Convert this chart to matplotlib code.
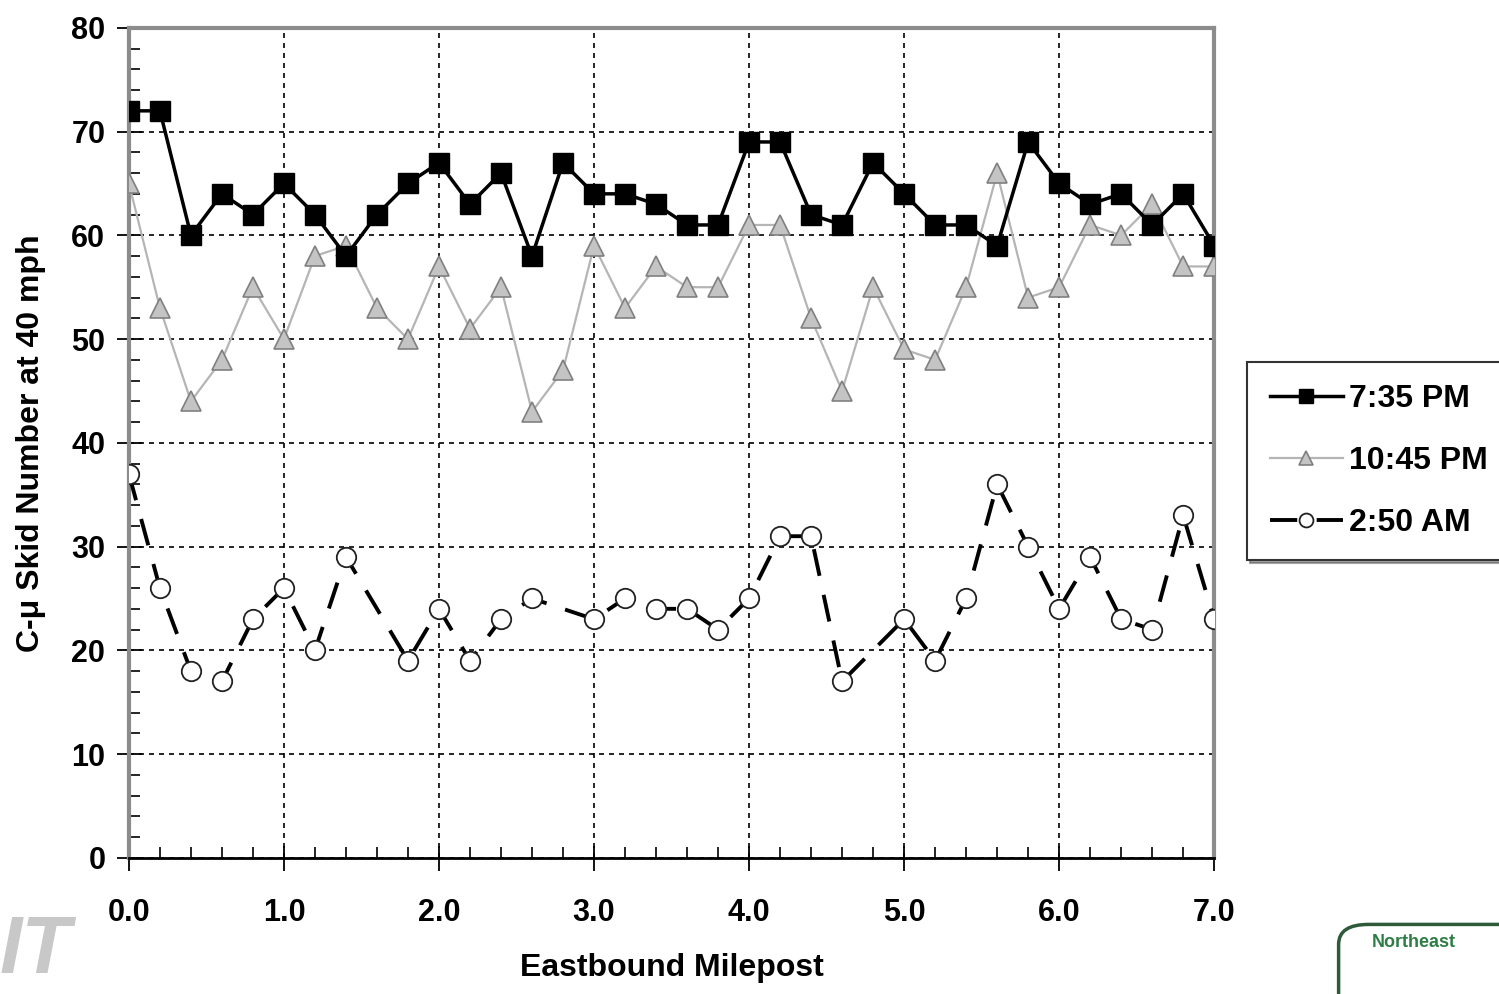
import numpy as np
import matplotlib
matplotlib.use("Agg")
import matplotlib.pyplot as plt
from matplotlib.patches import FancyBboxPatch
from matplotlib.ticker import MultipleLocator

# Datos (milepost cada 0.2)
milepost = [0.0, 0.2, 0.4, 0.6, 0.8, 1.0, 1.2, 1.4, 1.6, 1.8,
            2.0, 2.2, 2.4, 2.6, 2.8, 3.0, 3.2, 3.4, 3.6, 3.8,
            4.0, 4.2, 4.4, 4.6, 4.8, 5.0, 5.2, 5.4, 5.6, 5.8,
            6.0, 6.2, 6.4, 6.6, 6.8, 7.0]
skid_735pm = [72, 72, 60, 64, 62, 65, 62, 58, 62, 65,
              67, 63, 66, 58, 67, 64, 64, 63, 61, 61,
              69, 69, 62, 61, 67, 64, 61, 61, 59, 69,
              65, 63, 64, 61, 64, 59]
skid_1045pm = [65, 53, 44, 48, 55, 50, 58, 59, 53, 50,
               57, 51, 55, 43, 47, 59, 53, 57, 55, 55,
               61, 61, 52, 45, 55, 49, 48, 55, 66, 54,
               55, 61, 60, 63, 57, 57]
# None = sin medicion en ese punto
skid_250am = [37, 26, 18, 17, 23, 26, 20, 29, None, 19,
              24, 19, 23, 25, None, 23, 25, 24, 24, 22,
              25, 31, 31, 17, None, 23, 19, 25, 36, 30,
              24, 29, 23, 22, 33, 23]
labels = ["7:35 PM", "10:45 PM", "2:50 AM"]

FONT = "Liberation Sans"
plt.rcParams["font.family"] = [FONT, "DejaVu Sans"]
plt.rcParams["font.weight"] = "bold"

fig = plt.figure(figsize=(14.99, 9.94), dpi=100)
ax = fig.add_axes([0.086, 0.137, 0.724, 0.835])

x = np.array(milepost)
y3 = np.array([np.nan if v is None else v for v in skid_250am], dtype=float)
ok = ~np.isnan(y3)

l1, = ax.plot(x, skid_735pm, color="black", lw=2.5, marker="s", markersize=15,
              markerfacecolor="black", markeredgecolor="black", zorder=5, label=labels[0])
l2, = ax.plot(x, skid_1045pm, color="#b5b5b5", lw=1.6, marker="^", markersize=14,
              markerfacecolor="#c4c4c4", markeredgecolor="#808080", markeredgewidth=1.2,
              zorder=4, label=labels[1])
l3, = ax.plot(x[ok], y3[ok], color="black", lw=2.8, linestyle=(0, (7, 5)), marker="o",
              markersize=14, markerfacecolor="white", markeredgecolor="#222222",
              markeredgewidth=1.3, zorder=4, label=labels[2])

ax.set_xlim(0, 7)
ax.set_ylim(0, 80)
ax.xaxis.set_major_locator(MultipleLocator(1))
ax.xaxis.set_minor_locator(MultipleLocator(0.2))
ax.yaxis.set_major_locator(MultipleLocator(10))
ax.yaxis.set_minor_locator(MultipleLocator(2))
ax.xaxis.set_major_formatter(plt.FuncFormatter(lambda v, p: f"{v:.1f}"))

ax.grid(True, which="major", color="black", linestyle=(0, (3, 3)), lw=1.2)
ax.tick_params(which="major", direction="inout", length=18, width=1.3, labelsize=22, pad=8)
ax.tick_params(axis="x", which="major", pad=20)
ax.tick_params(which="minor", direction="in", length=8, width=1.2)
for lab in ax.get_xticklabels() + ax.get_yticklabels():
    lab.set_fontweight("bold")

for side in ["top", "right", "left"]:
    ax.spines[side].set_color("#8c8c8c")
    ax.spines[side].set_linewidth(3)
ax.spines["bottom"].set_color("black")
ax.spines["bottom"].set_linewidth(2)

ax.set_xlabel("Eastbound Milepost", fontsize=23, fontweight="bold", labelpad=18)
ax.set_ylabel("C-\u03bc Skid Number at 40 mph", fontsize=23, fontweight="bold", labelpad=18)

leg = fig.legend(handles=[l1, l2, l3], loc="upper left", bbox_to_anchor=(0.832, 0.636),
                 borderaxespad=0, frameon=True, fancybox=False, shadow=True,
                 handlelength=2.3, handletextpad=0.2, labelspacing=1.0,
                 borderpad=0.7, prop={"weight": "bold", "size": 23})
leg.get_frame().set_edgecolor("#333333")
leg.get_frame().set_linewidth(1.5)
for h in leg.legend_handles:
    h.set_markersize(10)

# marca de agua y logo en las esquinas
fig.text(0.0, 0.004, "IT", fontsize=58, color="#c8c8c8", fontweight="bold",
         fontstyle="italic", ha="left", va="bottom")
logo = FancyBboxPatch((0.893, -0.05), 0.2, 0.12, boxstyle="round,pad=0,rounding_size=0.02",
                      transform=fig.transFigure, facecolor="white", edgecolor="#2f5a3a",
                      lw=2.5, clip_on=False)
fig.patches.append(logo)
fig.text(0.915, 0.052, "Northeast", fontsize=13, color="#2e7d45", fontweight="bold",
         ha="left", va="center")

fig.savefig("out.png", dpi=100)
